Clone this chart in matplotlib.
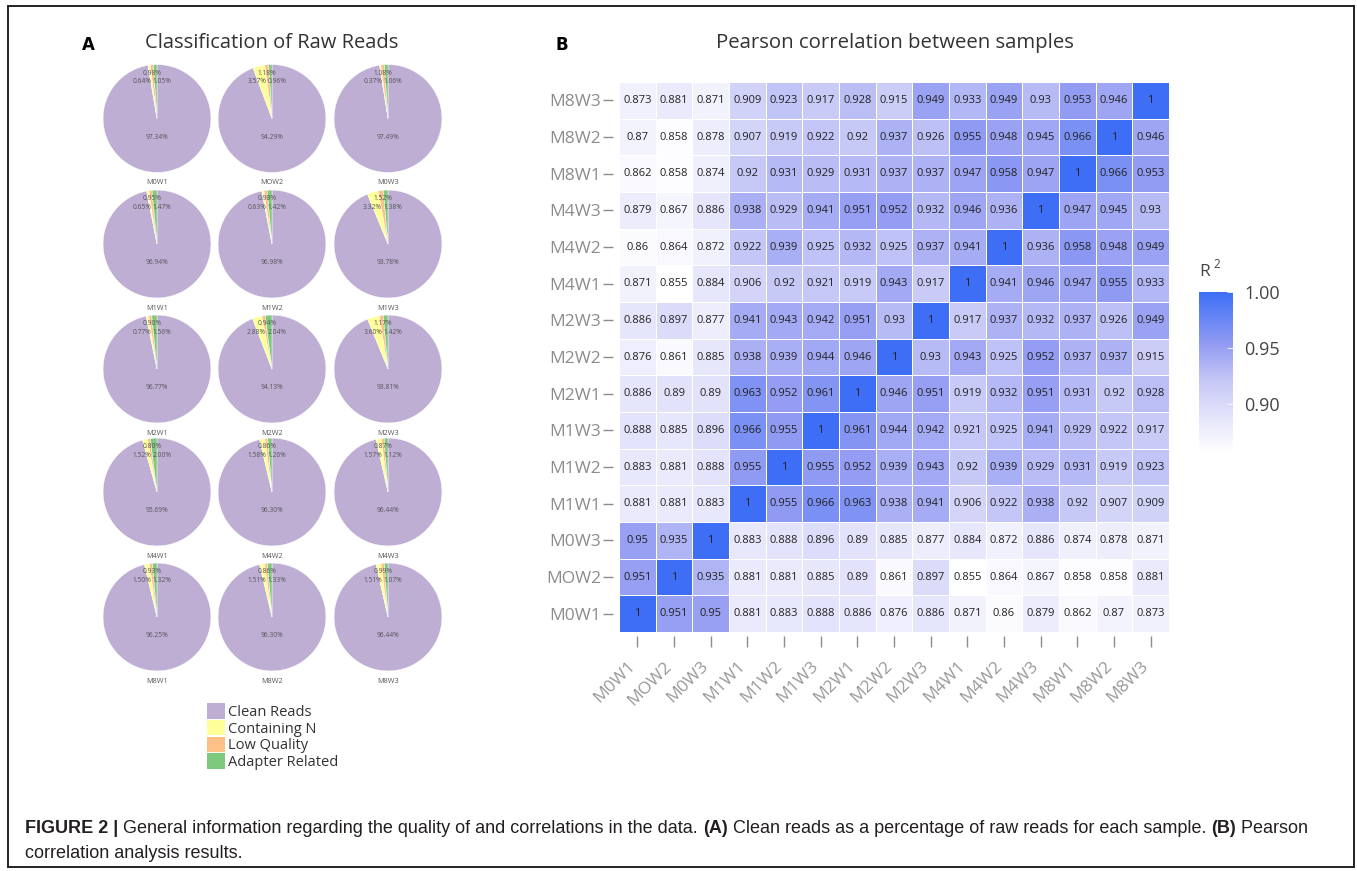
import numpy as np
import matplotlib
matplotlib.use('Agg')
import matplotlib.pyplot as plt
from matplotlib.colors import LinearSegmentedColormap, Normalize
from matplotlib.patches import Patch, Rectangle
from matplotlib.transforms import ScaledTranslation

W, H = 1357, 871
FONT = 'Open Sans'

# ---------------- data ----------------
samples = ['M0W1', 'MOW2', 'M0W3', 'M1W1', 'M1W2', 'M1W3', 'M2W1', 'M2W2', 'M2W3',
           'M4W1', 'M4W2', 'M4W3', 'M8W1', 'M8W2', 'M8W3']

# percentages per sample
clean_reads = [97.34, 94.29, 97.49, 96.94, 96.98, 93.78, 96.77, 94.13, 93.81,
               95.69, 96.30, 96.44, 96.25, 96.30, 96.44]
containing_n = [0.64, 3.57, 0.37, 0.65, 0.63, 3.32, 0.77, 2.88, 3.60,
                1.52, 1.58, 1.57, 1.50, 1.51, 1.51]
low_quality = [0.98, 1.18, 1.08, 0.95, 0.98, 1.52, 0.90, 0.94, 1.17,
               0.80, 0.86, 0.87, 0.93, 0.86, 0.99]
adapter_related = [1.05, 0.96, 1.06, 1.47, 1.42, 1.38, 1.56, 2.04, 1.42,
                   2.00, 1.26, 1.12, 1.32, 1.33, 1.07]

categories = ['Clean Reads', 'Containing N', 'Low Quality', 'Adapter Related']
pie_colors = ['#beaed4', '#ffff99', '#fdc086', '#7fc97f']

heat_labels = ['M0W1', 'MOW2', 'M0W3', 'M1W1', 'M1W2', 'M1W3', 'M2W1', 'M2W2', 'M2W3',
               'M4W1', 'M4W2', 'M4W3', 'M8W1', 'M8W2', 'M8W3']
# rows listed bottom (M0W1) to top (M8W3), columns M0W1 .. M8W3
r_m0w1 = [1, 0.951, 0.95, 0.881, 0.883, 0.888, 0.886, 0.876, 0.886, 0.871, 0.86, 0.879, 0.862, 0.87, 0.873]
r_mow2 = [0.951, 1, 0.935, 0.881, 0.881, 0.885, 0.89, 0.861, 0.897, 0.855, 0.864, 0.867, 0.858, 0.858, 0.881]
r_m0w3 = [0.95, 0.935, 1, 0.883, 0.888, 0.896, 0.89, 0.885, 0.877, 0.884, 0.872, 0.886, 0.874, 0.878, 0.871]
r_m1w1 = [0.881, 0.881, 0.883, 1, 0.955, 0.966, 0.963, 0.938, 0.941, 0.906, 0.922, 0.938, 0.92, 0.907, 0.909]
r_m1w2 = [0.883, 0.881, 0.888, 0.955, 1, 0.955, 0.952, 0.939, 0.943, 0.92, 0.939, 0.929, 0.931, 0.919, 0.923]
r_m1w3 = [0.888, 0.885, 0.896, 0.966, 0.955, 1, 0.961, 0.944, 0.942, 0.921, 0.925, 0.941, 0.929, 0.922, 0.917]
r_m2w1 = [0.886, 0.89, 0.89, 0.963, 0.952, 0.961, 1, 0.946, 0.951, 0.919, 0.932, 0.951, 0.931, 0.92, 0.928]
r_m2w2 = [0.876, 0.861, 0.885, 0.938, 0.939, 0.944, 0.946, 1, 0.93, 0.943, 0.925, 0.952, 0.937, 0.937, 0.915]
r_m2w3 = [0.886, 0.897, 0.877, 0.941, 0.943, 0.942, 0.951, 0.93, 1, 0.917, 0.937, 0.932, 0.937, 0.926, 0.949]
r_m4w1 = [0.871, 0.855, 0.884, 0.906, 0.92, 0.921, 0.919, 0.943, 0.917, 1, 0.941, 0.946, 0.947, 0.955, 0.933]
r_m4w2 = [0.86, 0.864, 0.872, 0.922, 0.939, 0.925, 0.932, 0.925, 0.937, 0.941, 1, 0.936, 0.958, 0.948, 0.949]
r_m4w3 = [0.879, 0.867, 0.886, 0.938, 0.929, 0.941, 0.951, 0.952, 0.932, 0.946, 0.936, 1, 0.947, 0.945, 0.93]
r_m8w1 = [0.862, 0.858, 0.874, 0.92, 0.931, 0.929, 0.931, 0.937, 0.937, 0.947, 0.958, 0.947, 1, 0.966, 0.953]
r_m8w2 = [0.87, 0.858, 0.878, 0.907, 0.919, 0.922, 0.92, 0.937, 0.926, 0.955, 0.948, 0.945, 0.966, 1, 0.946]
r_m8w3 = [0.873, 0.881, 0.871, 0.909, 0.923, 0.917, 0.928, 0.915, 0.949, 0.933, 0.949, 0.93, 0.953, 0.946, 1]

corr = np.array([r_m0w1, r_mow2, r_m0w3, r_m1w1, r_m1w2, r_m1w3, r_m2w1, r_m2w2, r_m2w3,
                 r_m4w1, r_m4w2, r_m4w3, r_m8w1, r_m8w2, r_m8w3])


def px(x0, y0, w, h):
    """pixel box (top-left origin) -> figure fraction rect"""
    return [x0 / W, 1 - (y0 + h) / H, w / W, h / H]


def fxy(x, y):
    return x / W, 1 - y / H


fig = plt.figure(figsize=(W / 100, H / 100), dpi=100)
fig.patch.set_facecolor('white')

# outer frame
fig.patches.append(Rectangle((8 / W, 1 - 867 / H), 1346 / W, 861 / H, transform=fig.transFigure,
                             fill=False, edgecolor='#222222', linewidth=1.4))

# ---------------- A: pies ----------------
fig.text(*fxy(88, 45), 'A', fontsize=12, fontweight='bold', family='DejaVu Sans',
         ha='center', va='center')
fig.text(*fxy(272, 43), 'Classification of Raw Reads', fontsize=14.5, family=FONT,
         ha='center', va='center', color='#333333')

col_x = [157, 272, 388]
row_y = [118.5, 244, 369, 492, 617]
R = 55
for i, name in enumerate(samples):
    cx = col_x[i % 3]
    cy = row_y[i // 3]
    ax = fig.add_axes(px(cx - R, cy - R, 2 * R, 2 * R))
    vals = [clean_reads[i], containing_n[i], low_quality[i], adapter_related[i]]
    ax.pie(vals, colors=pie_colors, startangle=90, counterclock=False, radius=1,
           wedgeprops=dict(edgecolor='white', linewidth=0.3))
    ax.set_xlim(-1.02, 1.02)
    ax.set_ylim(-1.02, 1.02)
    ax.axis('off')
    kw = dict(fontsize=4.8, color='#555555', family=FONT, va='center')
    ax.text(0, -0.35, f'{clean_reads[i]:.2f}%', ha='center', **kw)
    ax.text(-0.09, 0.84, f'{low_quality[i]:.2f}%', ha='center', **kw)
    ax.text(-0.11, 0.68, f'{containing_n[i]:.2f}%', ha='right', **kw)
    ax.text(-0.08, 0.68, f'{adapter_related[i]:.2f}%', ha='left', **kw)
    fig.text(*fxy(cx, cy + 64), name, fontsize=5.2, color='#555555', family=FONT,
             ha='center', va='center')

handles = [Patch(facecolor=c, edgecolor='none') for c in pie_colors]
fig.legend(handles, categories, loc='upper left', bbox_to_anchor=fxy(200, 696),
           frameon=False, prop={'family': FONT, 'size': 10.5}, handlelength=1.2,
           handleheight=1.25, handletextpad=0.25, labelspacing=0.0, borderpad=0,
           labelcolor='#333333')

# ---------------- B: heatmap ----------------
fig.text(*fxy(562, 45), 'B', fontsize=12, fontweight='bold', family='DejaVu Sans',
         ha='center', va='center')
fig.text(*fxy(895, 43), 'Pearson correlation between samples', fontsize=14.7, family=FONT,
         ha='center', va='center', color='#333333')

cmap = LinearSegmentedColormap.from_list(
    'r2', [(0.0, '#ffffff'), (0.17, '#ebebfc'), (0.45, '#c6c8f6'),
           (0.66, '#979ff3'), (1.0, '#3d6ef5')])
norm = Normalize(vmin=0.855, vmax=1.0)

n = len(heat_labels)
axh = fig.add_axes(px(619, 82, 550, 550))
mesh = axh.pcolormesh(np.arange(n + 1), np.arange(n + 1), corr, cmap=cmap, norm=norm,
                      edgecolors='#ffffff', linewidth=0.4)
for r in range(n):
    for c in range(n):
        v = corr[r, c]
        axh.text(c + 0.5, r + 0.5, f'{v:g}', ha='center', va='center', fontsize=8,
                 family=FONT, color='#222222')
axh.set_xlim(0, n)
axh.set_ylim(0, n)
# spine offsets first: set_position resets the tick objects
for s in axh.spines.values():
    s.set_visible(False)
axh.spines['left'].set_position(('outward', 4))
axh.spines['bottom'].set_position(('outward', 3))
axh.set_xticks(np.arange(n) + 0.5)
axh.set_yticks(np.arange(n) + 0.5)
axh.set_yticklabels(heat_labels, family=FONT, fontsize=12.5, color='#8c8c8c')
axh.set_xticklabels(heat_labels, family=FONT, fontsize=12.5, color='#999999',
                    rotation=45, ha='right', va='top', rotation_mode='anchor')
axh.tick_params(axis='y', length=7, width=1, color='#8c8c8c', pad=2)
axh.tick_params(axis='x', length=8, width=1, color='#8c8c8c', pad=8)
shift = ScaledTranslation(-0.1, 0, fig.dpi_scale_trans)
for lab in axh.get_xticklabels():
    lab.set_transform(lab.get_transform() + shift)

cax = fig.add_axes(px(1199, 292, 34, 162))
cb = fig.colorbar(mesh, cax=cax)
cb.outline.set_visible(False)
cb.set_ticks([0.90, 0.95, 1.00])
cb.set_ticklabels(['0.90', '0.95', '1.00'])
cax.tick_params(labelsize=13, labelcolor='#444444', direction='in', color='white',
                length=4, width=0.6, pad=8)
for t in cax.get_yticklabels():
    t.set_family(FONT)
fig.text(*fxy(1199, 272), 'R', fontsize=12.5, family=FONT, color='#444444', va='center')
fig.text(*fxy(1213, 264), '2', fontsize=8.5, family=FONT, color='#444444', va='center')

# ---------------- caption ----------------
renderer = fig.canvas.get_renderer()


def caption_line(x, y, parts, size=13):
    x_fig, y_fig = fxy(x, y)
    for txt, bold in parts:
        t = fig.text(x_fig, y_fig, txt, fontsize=size, family='Liberation Sans',
                     fontweight='bold' if bold else 'normal', color='#231f20', va='center')
        bb = t.get_window_extent(renderer=renderer)
        x_fig += bb.width / W


caption_line(25, 828, [('FIGURE 2 |', True),
                       (' General information regarding the quality of and correlations in the data. ', False),
                       ('(A)', True),
                       (' Clean reads as a percentage of raw reads for each sample. ', False),
                       ('(B)', True),
                       (' Pearson', False)])
caption_line(25, 853, [('correlation analysis results.', False)])

fig.savefig('out.png', dpi=100)
